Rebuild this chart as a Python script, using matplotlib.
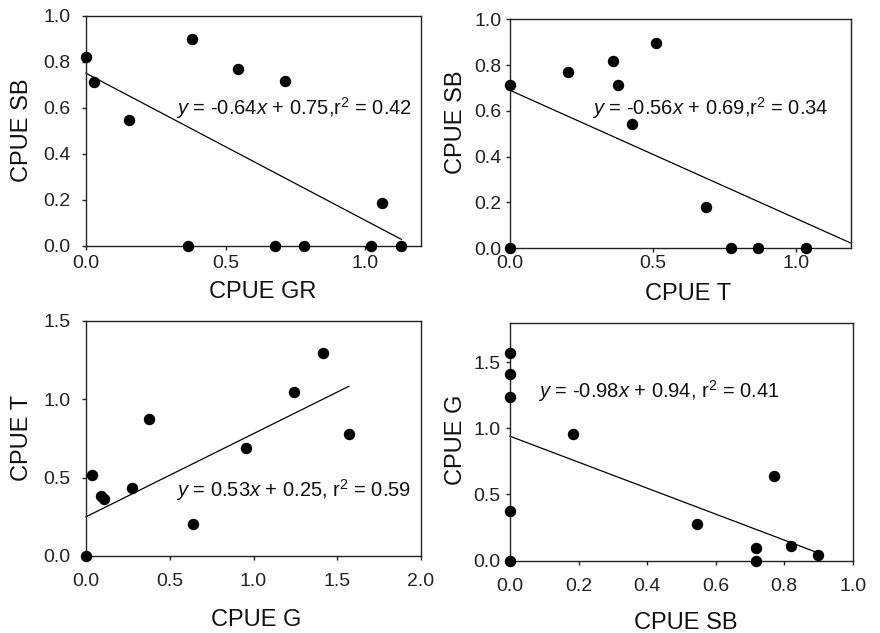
### CPUE 散点图 + 回归线 (2x2)

import matplotlib
matplotlib.use("Agg")
import numpy as np
import matplotlib.pyplot as plt
from matplotlib.ticker import FormatStrFormatter

plt.rcParams['font.family'] = ['Liberation Sans', 'DejaVu Sans']
plt.rcParams['mathtext.fontset'] = 'custom'
plt.rcParams['mathtext.rm'] = 'Liberation Sans'
plt.rcParams['mathtext.it'] = 'Liberation Sans:italic'

# 数据: GR vs SB
gr_x = [0.0, 0.03, 0.155, 0.378, 0.545, 0.712, 1.058, 0.364, 0.676, 0.780, 1.020, 1.129]
gr_y = [0.82, 0.713, 0.546, 0.897, 0.770, 0.714, 0.184, 0.0, 0.0, 0.0, 0.0, 0.0]

# 数据: T vs SB
t_x = [0.0, 0.202, 0.359, 0.378, 0.428, 0.510, 0.684, 0.0, 0.773, 0.868, 1.036]
t_y = [0.714, 0.768, 0.820, 0.715, 0.543, 0.898, 0.180, 0.0, 0.0, 0.0, 0.0]

# 数据: G vs T
g_x = [0.0, 0.034, 0.090, 0.110, 0.273, 0.376, 0.637, 0.954, 1.239, 1.412, 1.570]
g_y = [0.0, 0.516, 0.382, 0.361, 0.431, 0.873, 0.204, 0.690, 1.045, 1.292, 0.778]

# 数据: SB vs G
sb_x = [0.0, 0.0, 0.0, 0.0, 0.0, 0.183, 0.545, 0.718, 0.718, 0.770, 0.819, 0.898]
sb_y = [1.567, 1.411, 1.239, 0.378, 0.0, 0.957, 0.277, 0.098, 0.0, 0.642, 0.113, 0.043]

# 回归系数 (斜率, 截距, r2)
fits = [(-0.64, 0.75, 0.42), (-0.56, 0.69, 0.34), (0.53, 0.25, 0.59), (-0.98, 0.94, 0.41)]
fit_end = [1.129, 1.191, 1.57, 0.898]

fig = plt.figure(figsize=(8.8, 6.33), dpi=100)
W, H = 880.0, 633.0

def make_ax(l, r, t, b):
    return fig.add_axes([l / W, 1 - b / H, (r - l) / W, (b - t) / H])

ax1 = make_ax(86, 420.7, 15.7, 245.7)
ax2 = make_ax(510, 850.7, 19.3, 248.3)
ax3 = make_ax(86, 421, 320.7, 556)
ax4 = make_ax(510, 852.7, 323.3, 560.7)

panels = [
    (ax1, gr_x, gr_y, 'CPUE GR', 'CPUE SB', (0, 1.198), (0, 1.0),
     [0, 0.5, 1.0], np.arange(0, 1.01, 0.2), '$y$ = -0.64$x$ + 0.75,r$^2$ = 0.42', (0.322, 0.597)),
    (ax2, t_x, t_y, 'CPUE T', 'CPUE SB', (0, 1.191), (0, 1.0),
     [0, 0.5, 1.0], np.arange(0, 1.01, 0.2), '$y$ = -0.56$x$ + 0.69,r$^2$ = 0.34', (0.286, 0.611)),
    (ax3, g_x, g_y, 'CPUE G', 'CPUE T', (0, 2.0), (0, 1.5),
     [0, 0.5, 1.0, 1.5, 2.0], [0, 0.5, 1.0, 1.5], '$y$ = 0.53$x$ + 0.25, r$^2$ = 0.59', (0.538, 0.42)),
    (ax4, sb_x, sb_y, 'CPUE SB', 'CPUE G', (0, 1.0), (0, 1.793),
     np.arange(0, 1.01, 0.2), [0, 0.5, 1.0, 1.5], '$y$ = -0.98$x$ + 0.94, r$^2$ = 0.41', (0.083, 1.285)),
]

# 标签位置 (轴坐标)
xlab_pos = [(0.528, -0.153), (0.522, -0.152), (0.508, -0.227), (0.512, -0.218)]
ylab_pos = [(-0.157, 0.5), (-0.127, 0.549), (-0.157, 0.5), (-0.126, 0.508)]
xpad = [3.5, 1.5, 9.5, 9.5]
ypad = [8, 3, 8, 4]

for i, (ax, x, y, xl, yl, xlim, ylim, xt, yt, txt, tpos) in enumerate(panels):
    ax.scatter(x, y, s=52, color='black', zorder=5, clip_on=False)
    k, b, r2 = fits[i]
    xx = np.array([0, fit_end[i]])
    ax.plot(xx, k * xx + b, color='black', lw=0.9, clip_on=False)
    ax.text(tpos[0], tpos[1], txt, fontsize=14.5, ha='left', va='center', color='#111111')

    ax.set_xlim(*xlim)
    ax.set_ylim(*ylim)
    ax.set_xticks(xt)
    ax.set_yticks(yt)
    ax.xaxis.set_major_formatter(FormatStrFormatter('%.1f'))
    ax.yaxis.set_major_formatter(FormatStrFormatter('%.1f'))
    ax.tick_params(axis='both', direction='out', length=3, width=1, labelsize=14, colors='#222222')
    ax.tick_params(axis='x', pad=xpad[i])
    ax.tick_params(axis='y', pad=ypad[i])
    for s in ax.spines.values():
        s.set_linewidth(1.0)
        s.set_color('#222222')

    ax.set_xlabel(xl, fontsize=17, color='#111111')
    ax.set_ylabel(yl, fontsize=17, color='#111111')
    ax.xaxis.set_label_coords(*xlab_pos[i])
    ax.yaxis.set_label_coords(*ylab_pos[i])

fig.savefig('out.png', dpi=100)
